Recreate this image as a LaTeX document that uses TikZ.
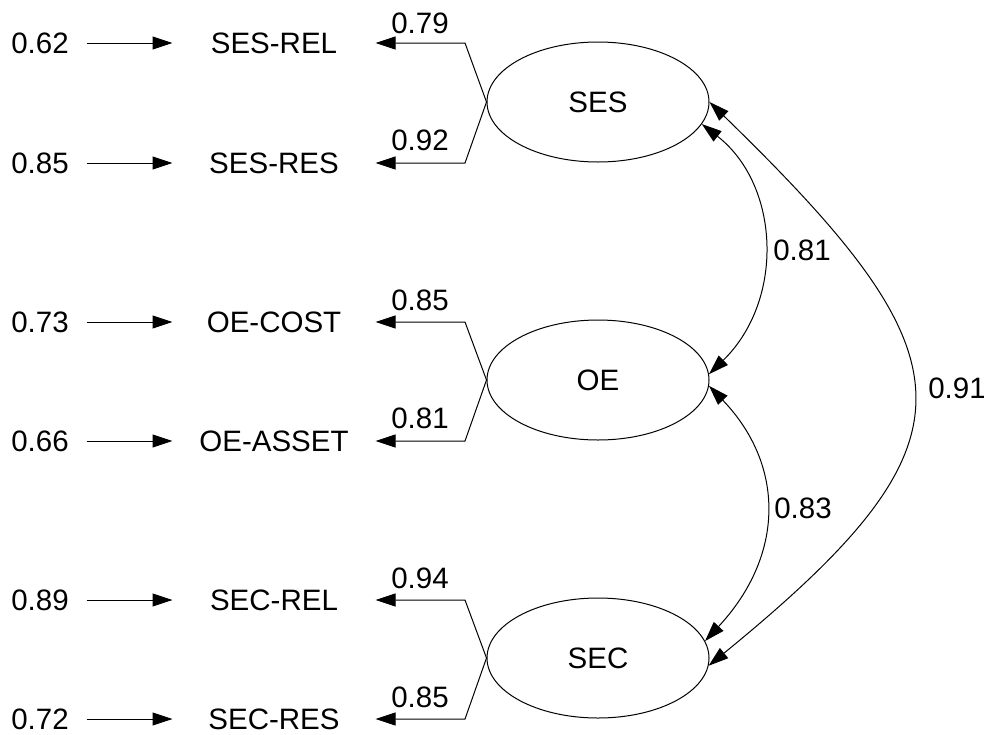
\documentclass[tikz,border=0pt]{standalone}
\usepackage{fontspec}
\setmainfont{Liberation Sans}
\usetikzlibrary{arrows.meta,shapes.geometric}
\begin{document}
\begin{tikzpicture}[x=1pt,y=-1pt,
  font=\fontsize{29.5}{32}\selectfont,
  every path/.style={line width=1pt},
  tip/.style={-{Triangle[length=20pt,width=13pt]}},
  dtip/.style={{Triangle[length=20pt,width=13pt]}-{Triangle[length=20pt,width=13pt]}},
  err/.style={inner sep=0pt,minimum width=92pt,anchor=center},
  ind/.style={inner sep=0pt,minimum width=202pt,anchor=center},
  lat/.style={draw,ellipse,inner sep=0pt,minimum width=222pt,minimum height=120pt,line width=1pt},
  lab/.style={inner sep=0pt,anchor=center}]
\useasboundingbox[fill=white] (0,0) rectangle (984,734);

% latent variables
\node[lat] (SES) at (598,102) {SES};
\node[lat] (OE)  at (598,380) {OE};
\node[lat] (SEC) at (598,658) {SEC};

% indicators
\node[ind] (i1) at (274,43)  {SES-REL};
\node[ind] (i2) at (274,163) {SES-RES};
\node[ind] (i3) at (274,322) {OE-COST};
\node[ind] (i4) at (274,441) {OE-ASSET};
\node[ind] (i5) at (274,600) {SEC-REL};
\node[ind] (i6) at (274,719) {SEC-RES};

% error terms
\node[err] (e1) at (40,43)  {0.62};
\node[err] (e2) at (40,163) {0.85};
\node[err] (e3) at (40,322) {0.73};
\node[err] (e4) at (40,441) {0.66};
\node[err] (e5) at (40,600) {0.89};
\node[err] (e6) at (40,719) {0.72};

\foreach \k in {1,...,6} {\draw[tip] (e\k.east) -- (i\k.west);}

% bend points of loadings
\coordinate (b1) at (465,43);
\coordinate (b2) at (465,163);
\coordinate (b3) at (465,322);
\coordinate (b4) at (465,441);
\coordinate (b5) at (465,600);
\coordinate (b6) at (465,719);

\draw[tip] (SES.west) -- (b1) -- (i1.east);
\draw[tip] (SES.west) -- (b2) -- (i2.east);
\draw[tip] (OE.west) -- (b3) -- (i3.east);
\draw[tip] (OE.west) -- (b4) -- (i4.east);
\draw[tip] (SEC.west) -- (b5) -- (i5.east);
\draw[tip] (SEC.west) -- (b6) -- (i6.east);

\node[lab] (l1) at (420,23)  {0.79};
\node[lab] (l2) at (420,140) {0.92};
\node[lab] (l3) at (420,300) {0.85};
\node[lab] (l4) at (420,418) {0.81};
\node[lab] (l5) at (420,578) {0.94};
\node[lab] (l6) at (420,697) {0.85};

% covariances
\draw[dtip] (SES.-12) .. controls (780,185) and (785,300) .. (OE.3);
\draw[dtip] (OE.-3) .. controls (785,465) and (785,555) .. (SEC.9);
\draw[dtip] (SES.east) .. controls (975,360) and (985,440) .. (SEC.-4);

\node[lab] (c1) at (802,250) {0.81};
\node[lab] (c2) at (803,508) {0.83};
\node[lab] (c3) at (957,388) {0.91};
\end{tikzpicture}
\end{document}
